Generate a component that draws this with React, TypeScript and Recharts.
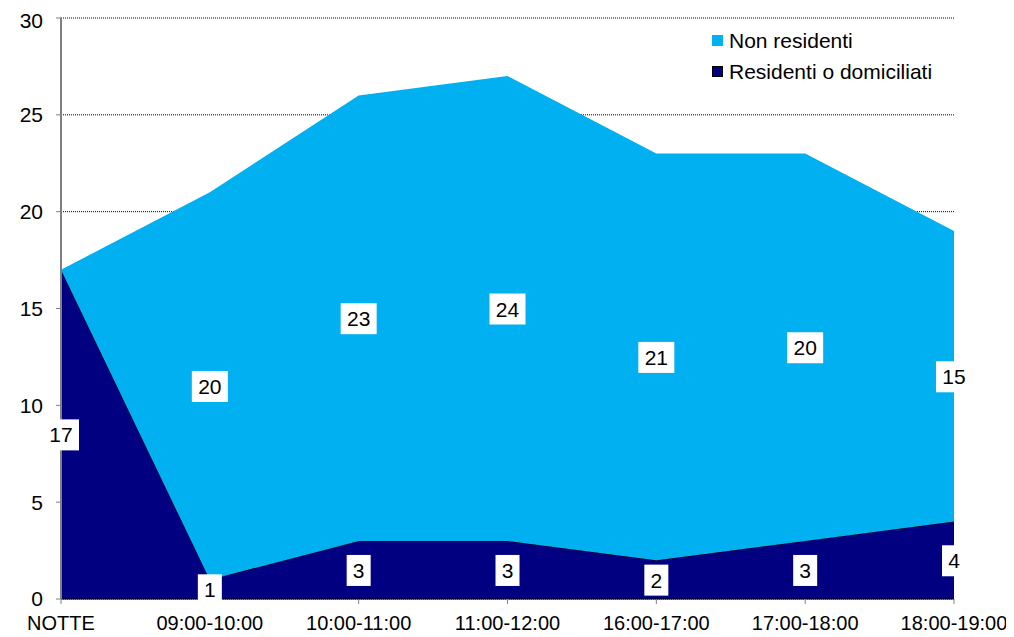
import { AreaChart, Area, CartesianGrid, XAxis, YAxis, Legend } from 'recharts';

const categories = ['NOTTE', '09:00-10:00', '10:00-11:00', '11:00-12:00', '16:00-17:00', '17:00-18:00', '18:00-19:00'];
const residenti = [17, 1, 3, 3, 2, 3, 4];
const nonResidenti = [0, 20, 23, 24, 21, 20, 15];
const yTicks = [0, 5, 10, 15, 20, 25, 30];

const data = categories.map((c, i) => ({ name: c, res: residenti[i], non: nonResidenti[i] }));

const W = 1006;
const H = 629;
const M = { top: 10, right: 60, bottom: 0, left: 0 };
const XH = 38;
const YMAX = 30;
const unit = (H - M.top - M.bottom - XH) / YMAX;

const FONT = 'Arial, "Liberation Sans", sans-serif';

function makeLabel(values: number[]) {
    return (props: any) => {
        const { x, y, index } = props;
        const v = values[index];
        if (!v) return null;
        const cy = y + (v / 2) * unit;
        const w = String(v).length > 1 ? 36 : 24;
        return (
            <g>
                <rect x={x - w / 2} y={cy - 15} width={w} height={31} fill="#fff" />
                <text x={x} y={cy + 8} textAnchor="middle" fontSize={21} fontFamily={FONT} fill="#000">{v}</text>
            </g>
        );
    };
}

const legendItems = [
    { label: 'Non residenti', color: '#00B0F0', border: '#00B0F0' },
    { label: 'Residenti o domiciliati', color: '#000080', border: '#000' },
];

function LegendBox() {
    return (
        <div style={{ fontFamily: FONT, fontSize: 21, color: '#000' }}>
            {legendItems.map((it) => (
                <div key={it.label} style={{ display: 'flex', alignItems: 'center', height: 31 }}>
                    <span style={{ width: 9, height: 9, background: it.color, border: `1px solid ${it.border}`, marginRight: 6 }} />
                    <span>{it.label}</span>
                </div>
            ))}
        </div>
    );
}

export default function App() {
    return (
        <div style={{ background: '#fff' }}>
            <AreaChart width={W} height={H} data={data} margin={M} style={{ overflow: 'visible' }}>
                <CartesianGrid vertical={false} stroke="#000" strokeDasharray="1 1" />
                <XAxis dataKey="name" height={XH} tickSize={5} tickMargin={12}
                    tick={{ fontSize: 20, fontFamily: FONT, fill: '#000' }}
                    axisLine={{ stroke: '#000' }} tickLine={{ stroke: '#808080' }} interval={0} />
                <YAxis domain={[0, YMAX]} ticks={yTicks} width={53} tickSize={5} tickMargin={13}
                    tick={{ fontSize: 21, fontFamily: FONT, fill: '#000' }}
                    axisLine={{ stroke: '#808080', strokeWidth: 2 }} tickLine={{ stroke: '#808080' }} />
                <Legend content={<LegendBox />}
                    wrapperStyle={{ top: 17, left: 704, width: 280, height: 0, overflow: 'visible' }} />
                <Area type="linear" dataKey="res" stackId="a" fill="#000080" fillOpacity={1} stroke="#000" strokeWidth={1}
                    isAnimationActive={false} label={makeLabel(residenti)} />
                <Area type="linear" dataKey="non" stackId="a" fill="#00B0F0" fillOpacity={1} stroke="none"
                    isAnimationActive={false} label={makeLabel(nonResidenti)} />
            </AreaChart>
        </div>
    );
}
